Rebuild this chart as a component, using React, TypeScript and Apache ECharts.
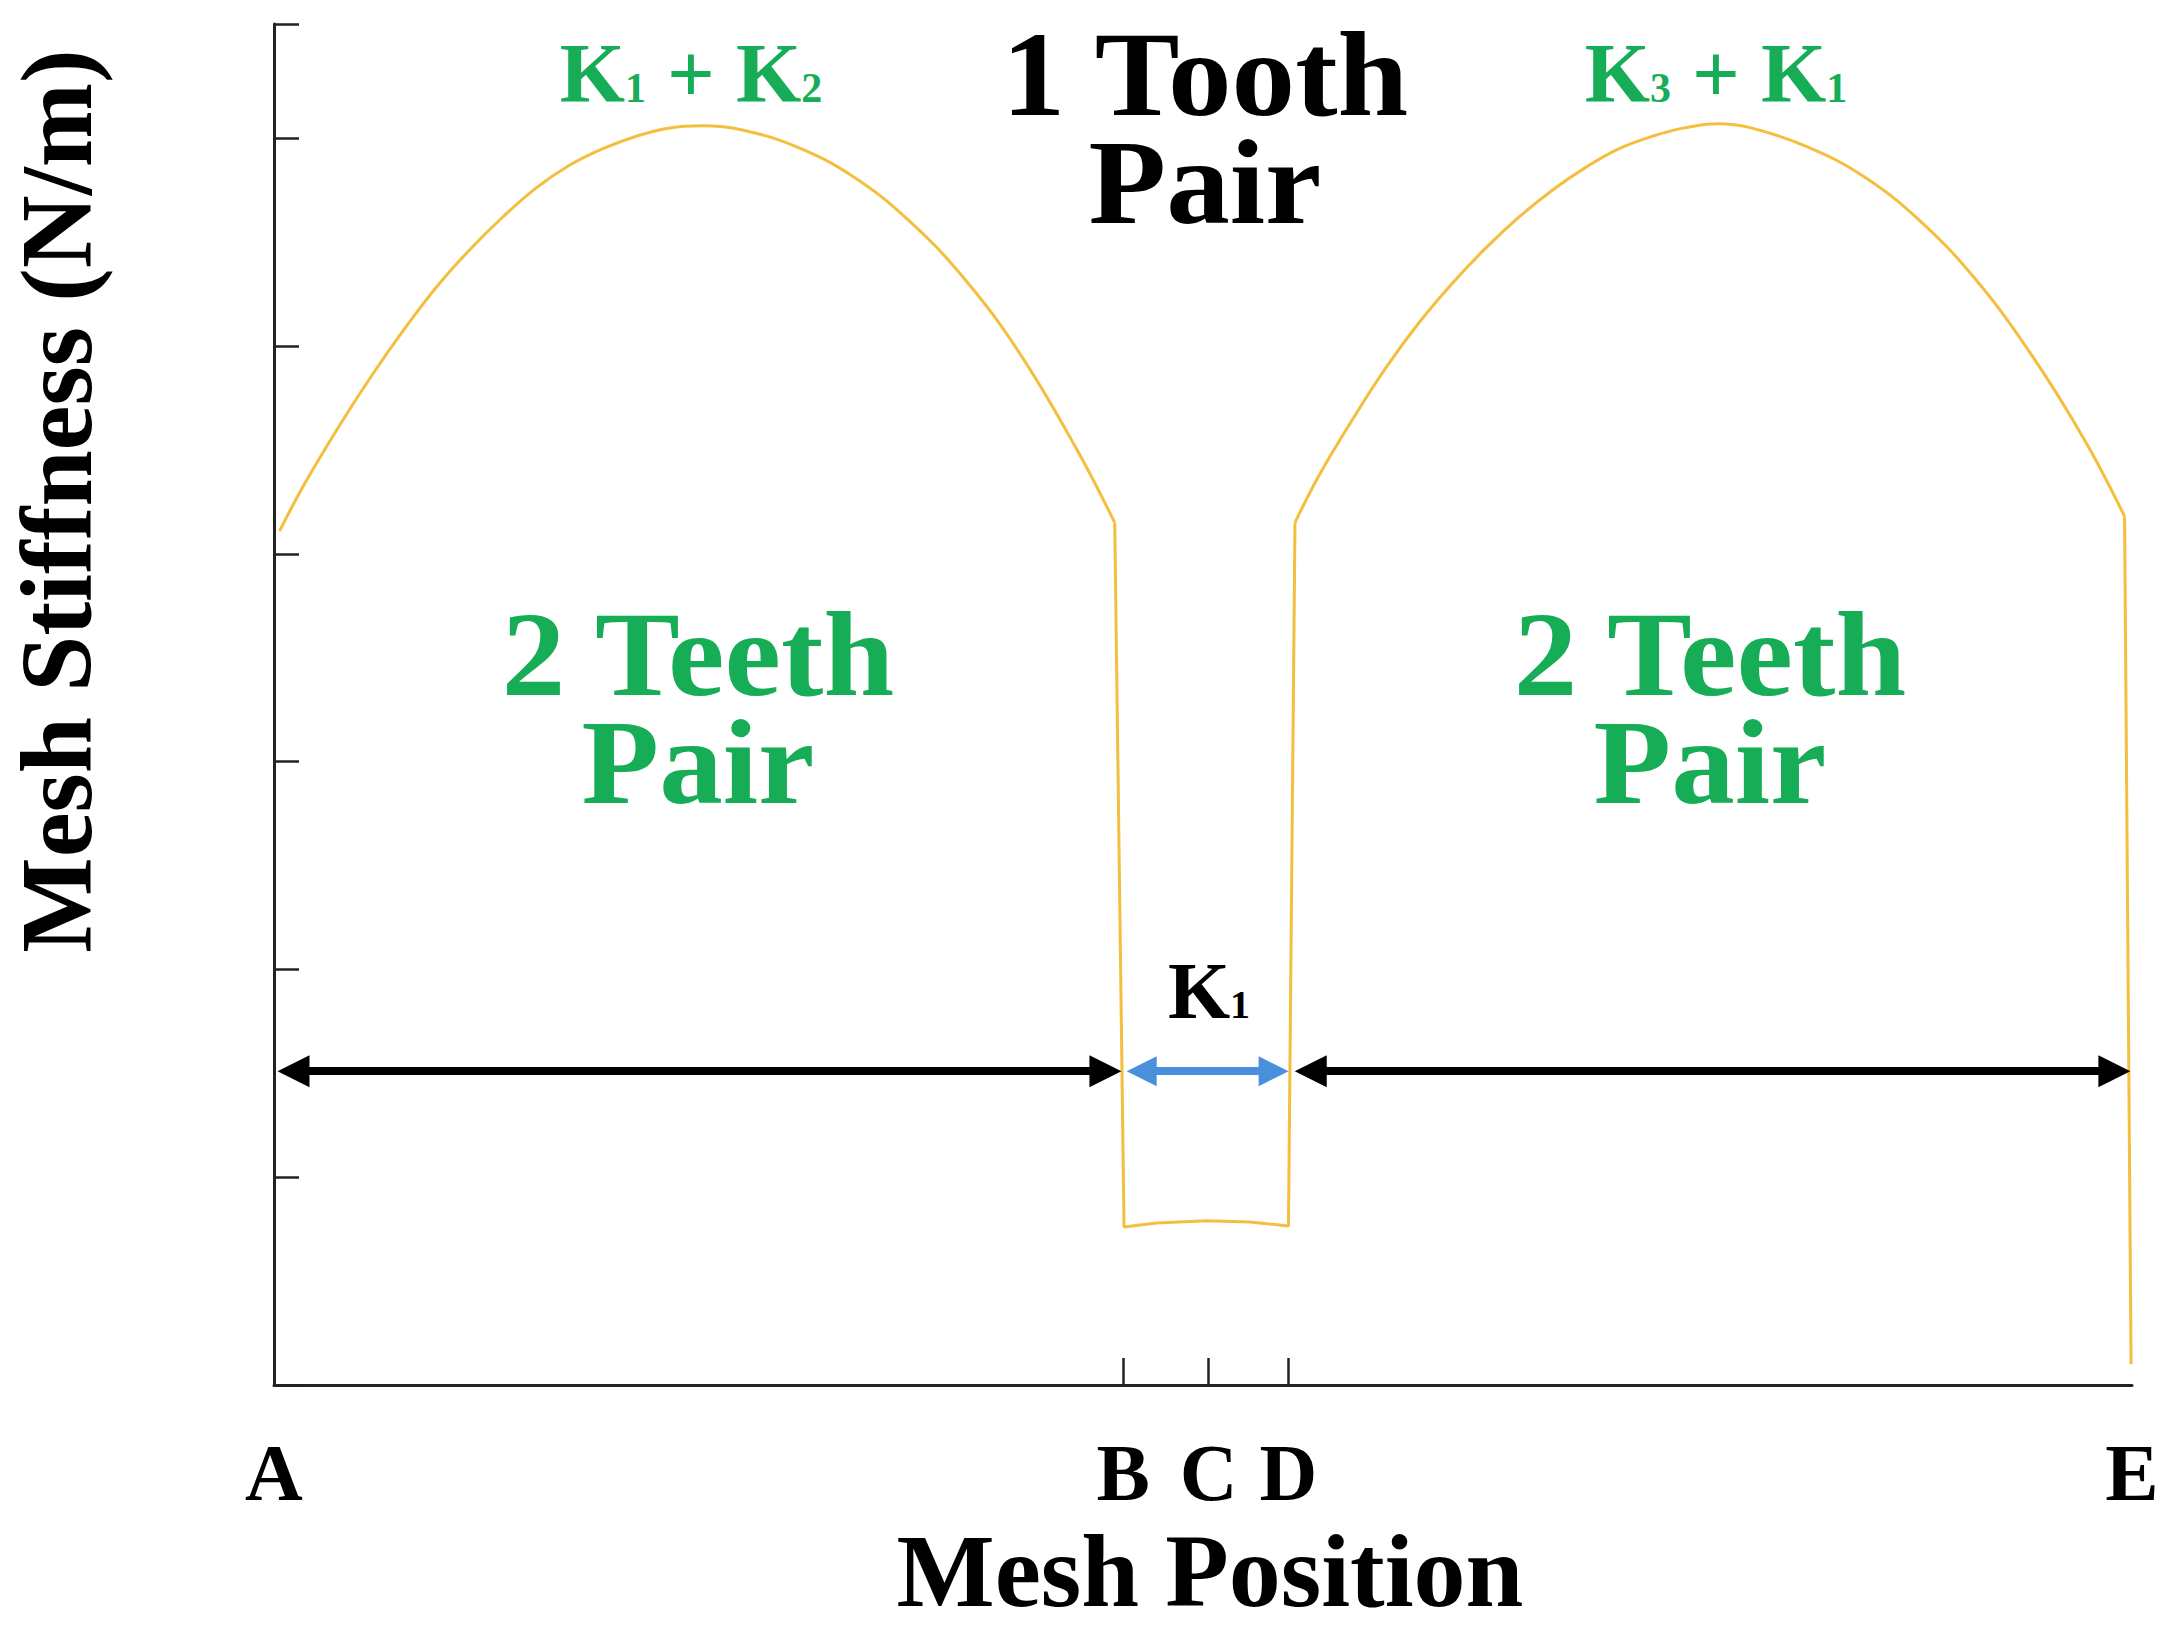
import React, { useEffect, useRef } from 'react';
import * as echarts from 'echarts';

// Mesh positions (x axis, arbitrary 0–100 scale) and their labels
const positionValues = [0, 45.7, 50.3, 54.6, 100];
const positionLabels = ['A', 'B', 'C', 'D', 'E'];
const innerTickValues = [45.7, 50.3, 54.6];

// Mesh stiffness curve (y axis in tick units 0–6.55)
const hump1 = [
  [0.3, 4.11], [1.6, 4.33], [3.4, 4.6], [5.2, 4.85], [7.0, 5.08], [8.8, 5.29],
  [10.6, 5.47], [12.3, 5.62], [14.1, 5.76], [15.9, 5.87], [17.7, 5.95], [19.5, 6.01],
  [21.3, 6.05], [23.1, 6.06], [25.2, 6.04], [28.1, 5.96], [31.1, 5.82], [34.1, 5.61],
  [37.1, 5.33], [40.1, 4.97], [43.1, 4.52], [45.25, 4.15],
];
const trough = [
  [45.25, 4.15], [45.75, 0.76], [47.5, 0.78], [50.2, 0.79], [52.5, 0.785], [54.6, 0.765], [54.95, 4.15],
];
const hump2 = [
  [54.95, 4.15], [56.2, 4.37], [58.0, 4.64], [59.8, 4.89], [61.6, 5.11], [63.4, 5.3],
  [65.2, 5.47], [67.0, 5.62], [68.8, 5.75], [70.6, 5.86], [72.4, 5.95], [74.2, 6.01],
  [75.9, 6.05], [77.7, 6.07], [79.5, 6.05], [82.5, 5.96], [85.5, 5.82], [88.5, 5.61],
  [91.5, 5.33], [94.5, 4.97], [97.5, 4.54], [99.6, 4.18],
];
const tail = [[99.6, 4.18], [99.95, 0.1]];

// Arrows (x spans, y level)
const arrowLevel = 1.51;
const blackArrowSpans = [[1.05, 44.75], [55.8, 99.05]];
const blueArrowSpan = [46.7, 53.8];

const YELLOW = '#F4BE3E';
const GREEN = '#17AD57';
const BLUE = '#4A8FDB';
const SERIF = '"Liberation Serif", "Times New Roman", serif';

function kRich(color: string, size: number, sub: number, subH: number) {
  return {
    k: { fontFamily: SERIF, fontWeight: 'bold', fontSize: size, fill: color, verticalAlign: 'bottom' },
    s: { fontFamily: SERIF, fontWeight: 'bold', fontSize: sub, fill: color, verticalAlign: 'bottom', height: subH },
  };
}

const centered = { align: 'center', verticalAlign: 'middle', textAlign: 'center', textVerticalAlign: 'middle' };

export default function App() {
  const ref = useRef<HTMLDivElement>(null);
  useEffect(() => {
    if (!ref.current) return;
    const chart = echarts.init(ref.current, null, { renderer: 'svg' });
    const lineBase = {
      type: 'line' as const,
      showSymbol: false,
      symbol: 'none',
      lineStyle: { color: YELLOW, width: 3 },
      itemStyle: { color: YELLOW },
      silent: true,
      z: 2,
    };
    chart.setOption({
      animation: false,
      backgroundColor: '#fff',
      grid: { left: 274, right: 49, top: 24, bottom: 245, containLabel: false, outerBoundsMode: 'none' },
      xAxis: {
        type: 'value',
        min: 0,
        max: 100,
        splitLine: { show: false },
        axisLine: { show: true, lineStyle: { color: '#222', width: 3 } },
        axisTick: { show: true, inside: true, length: 27, customValues: innerTickValues, lineStyle: { color: '#222', width: 2.5 } },
        axisLabel: {
          show: true,
          customValues: positionValues,
          margin: 48,
          fontSize: 80,
          fontWeight: 'bold',
          fontFamily: SERIF,
          color: '#000',
          formatter: (v: number) => {
            const i = positionValues.findIndex((p) => Math.abs(p - v) < 1e-6);
            return i >= 0 ? positionLabels[i] : '';
          },
        },
      },
      yAxis: {
        type: 'value',
        min: 0,
        max: 6.55,
        interval: 1,
        splitLine: { show: false },
        axisLine: { show: true, lineStyle: { color: '#222', width: 3 } },
        axisTick: { show: true, inside: true, length: 25, lineStyle: { color: '#222', width: 2.5 } },
        axisLabel: { show: false },
      },
      series: [
        { ...lineBase, name: 'hump1', data: hump1, smooth: 0.4 },
        {
          ...lineBase,
          name: 'trough',
          data: trough,
          smooth: false,
          markLine: {
            silent: true,
            symbol: ['triangle', 'triangle'],
            symbolSize: 32,
            label: { show: false },
            z: 5,
            data: [
              ...blackArrowSpans.map((s) => [
                { coord: [s[0], arrowLevel], lineStyle: { color: '#000', width: 8, type: 'solid' }, itemStyle: { color: '#000' } },
                { coord: [s[1], arrowLevel] },
              ]),
              [
                { coord: [blueArrowSpan[0], arrowLevel], lineStyle: { color: BLUE, width: 8, type: 'solid' }, itemStyle: { color: BLUE }, symbolSize: 30 },
                { coord: [blueArrowSpan[1], arrowLevel], symbolSize: 30 },
              ],
            ],
          },
        },
        { ...lineBase, name: 'hump2', data: hump2, smooth: 0.4 },
        { ...lineBase, name: 'tail', data: tail, smooth: false },
      ],
      graphic: [
        {
          type: 'text', x: 57, y: 501, rotation: Math.PI / 2,
          style: { text: 'Mesh Stiffness (N/m)', font: `bold 101px ${SERIF}`, fill: '#000', ...centered },
        },
        {
          type: 'text', x: 1210, y: 1570,
          style: { text: 'Mesh Position', font: `bold 104px ${SERIF}`, fill: '#000', ...centered },
        },
        {
          type: 'text', x: 1205, y: 128.5, scaleX: 1.06,
          style: { text: '1 Tooth\nPair', font: `bold 120px ${SERIF}`, lineHeight: 108, fill: '#000', ...centered },
        },
        {
          type: 'text', x: 698, y: 708.5, scaleX: 1.06,
          style: { text: '2 Teeth\nPair', font: `bold 120px ${SERIF}`, lineHeight: 108, fill: GREEN, ...centered },
        },
        {
          type: 'text', x: 1710, y: 708.5, scaleX: 1.06,
          style: { text: '2 Teeth\nPair', font: `bold 120px ${SERIF}`, lineHeight: 108, fill: GREEN, ...centered },
        },
        {
          type: 'text', x: 691, y: 73.6,
          style: { text: '{k|K}{s|1}{k| + K}{s|2}', rich: kRich(GREEN, 84, 42, 56), fill: GREEN, ...centered },
        },
        {
          type: 'text', x: 1716, y: 73.6,
          style: { text: '{k|K}{s|3}{k| + K}{s|1}', rich: kRich(GREEN, 84, 42, 56), fill: GREEN, ...centered },
        },
        {
          type: 'text', x: 1209, y: 991,
          style: { text: '{k|K}{s|1}', rich: kRich('#000', 80, 40, 53), fill: '#000', ...centered },
        },
      ],
    });
    return () => chart.dispose();
  }, []);
  return <div ref={ref} style={{ position: 'absolute', left: 0, top: 0, width: 2181, height: 1630 }} />;
}
